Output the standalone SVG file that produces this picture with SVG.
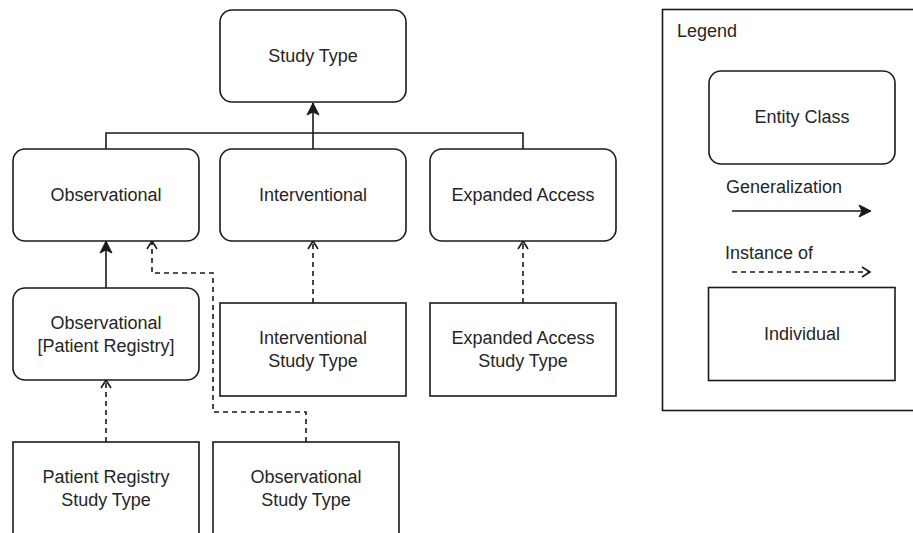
<svg xmlns="http://www.w3.org/2000/svg" width="913" height="533" viewBox="0 0 913 533">
  <style>
    .box { fill: #ffffff; stroke: #1a1a1a; stroke-width: 1.6; }
    .lbl { font-family: "Liberation Sans", Arial, sans-serif; font-size: 18px; fill: #262626; text-anchor: middle; }
    .lbl-left { font-family: "Liberation Sans", Arial, sans-serif; font-size: 18px; fill: #262626; text-anchor: start; }
    .edge { fill: none; stroke: #1a1a1a; stroke-width: 1.6; }
    .dash { stroke-dasharray: 5 4; }
  </style>
  <defs>
    <marker id="gen" viewBox="0 0 14 14" markerWidth="14" markerHeight="14" refX="13" refY="7" orient="auto" markerUnits="userSpaceOnUse">
      <path d="M1,1 L13,7 L1,13 L4,7 Z" fill="#1a1a1a" stroke="#1a1a1a" stroke-width="1"/>
    </marker>
    <marker id="inst" viewBox="0 0 14 14" markerWidth="14" markerHeight="14" refX="12" refY="7" orient="auto" markerUnits="userSpaceOnUse">
      <path d="M4,2 L12,7 L4,12" fill="none" stroke="#1a1a1a" stroke-width="1.6"/>
    </marker>
  </defs>

  <rect width="913" height="533" fill="#ffffff"/>

  <!-- connectors -->
  <g id="connectors">
    <path class="edge" d="M106,149 V133 H523 V149"/>
    <path class="edge" d="M313,149 V103" marker-end="url(#gen)"/>
    <path class="edge" d="M106,288 V241" marker-end="url(#gen)"/>
    <path class="edge dash" d="M106,442 V380" marker-end="url(#inst)"/>
    <path class="edge dash" d="M313,303 V241" marker-end="url(#inst)"/>
    <path class="edge dash" d="M523,303 V241" marker-end="url(#inst)"/>
    <path class="edge dash" d="M306,442 V412 H213 V273 H152 V241" marker-end="url(#inst)"/>
  </g>

  <!-- entity classes -->
  <g id="study-type">
    <rect class="box" x="220" y="10" width="186" height="92" rx="12"/>
    <text class="lbl" x="313" y="62">Study Type</text>
  </g>
  <g id="observational">
    <rect class="box" x="13" y="149" width="186" height="92" rx="12"/>
    <text class="lbl" x="106" y="201">Observational</text>
  </g>
  <g id="interventional">
    <rect class="box" x="220" y="149" width="186" height="92" rx="12"/>
    <text class="lbl" x="313" y="201">Interventional</text>
  </g>
  <g id="expanded-access">
    <rect class="box" x="430" y="149" width="186" height="92" rx="12"/>
    <text class="lbl" x="523" y="201">Expanded Access</text>
  </g>
  <g id="observational-patient-registry">
    <rect class="box" x="13" y="288" width="186" height="92" rx="12"/>
    <text class="lbl" x="106" y="329">Observational</text>
    <text class="lbl" x="106" y="352">[Patient Registry]</text>
  </g>

  <!-- individuals -->
  <g id="interventional-study-type">
    <rect class="box" x="220" y="303" width="186" height="93"/>
    <text class="lbl" x="313" y="344">Interventional</text>
    <text class="lbl" x="313" y="367">Study Type</text>
  </g>
  <g id="expanded-access-study-type">
    <rect class="box" x="430" y="303" width="186" height="93"/>
    <text class="lbl" x="523" y="344">Expanded Access</text>
    <text class="lbl" x="523" y="367">Study Type</text>
  </g>
  <g id="patient-registry-study-type">
    <rect class="box" x="13" y="442" width="186" height="93"/>
    <text class="lbl" x="106" y="483">Patient Registry</text>
    <text class="lbl" x="106" y="506">Study Type</text>
  </g>
  <g id="observational-study-type">
    <rect class="box" x="213" y="442" width="186" height="93"/>
    <text class="lbl" x="306" y="483">Observational</text>
    <text class="lbl" x="306" y="506">Study Type</text>
  </g>

  <!-- legend -->
  <g id="legend">
    <rect class="box" x="662.5" y="9.5" width="262" height="401"/>
    <text class="lbl-left" x="677" y="37">Legend</text>
    <rect class="box" x="709" y="71" width="186" height="93" rx="12"/>
    <text class="lbl" x="802" y="123">Entity Class</text>
    <text class="lbl-left" x="726" y="193">Generalization</text>
    <path class="edge" d="M732,211 H871" marker-end="url(#gen)"/>
    <text class="lbl-left" x="725" y="259">Instance of</text>
    <path class="edge dash" d="M732,272 H870" marker-end="url(#inst)"/>
    <rect class="box" x="708.5" y="287.5" width="186.5" height="93"/>
    <text class="lbl" x="802" y="340">Individual</text>
  </g>
</svg>
